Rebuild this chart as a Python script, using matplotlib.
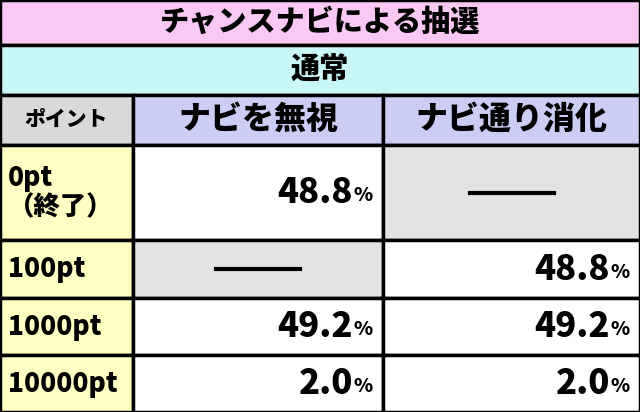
import matplotlib.pyplot as plt
from matplotlib.patches import Rectangle

plt.rcParams['font.family'] = ['Noto Sans CJK JP', 'DejaVu Sans']

title = "チャンスナビによる抽選"
subtitle = "通常"
headers = ["ポイント", "ナビを無視", "ナビ通り消化"]
row_labels = ["0pt\n（終了）", "100pt", "1000pt", "10000pt"]
ignore_vals = [48.8, None, 49.2, 2.0]
follow_vals = [None, 48.8, 49.2, 2.0]

W, H = 640, 412
col_x = [0, 133, 383, 640]
row_y = [145, 240, 298, 355, 412]

fig = plt.figure(figsize=(6.4, 4.12), dpi=100)
ax = fig.add_axes([0, 0, 1, 1])
ax.set_xlim(0, W)
ax.set_ylim(H, 0)
ax.axis("off")


def cell(x0, y0, x1, y1, fc):
    ax.add_patch(Rectangle((x0, y0), x1 - x0, y1 - y0, facecolor=fc,
                           edgecolor="black", lw=2.5))


cell(0, 0, W, 45, "#f9c9f3")
ax.text(W / 2, 22, title, ha="center", va="center", fontsize=21, fontweight="black")
cell(0, 45, W, 95, "#c9f7f7")
ax.text(W / 2, 70, subtitle, ha="center", va="center", fontsize=21, fontweight="black")

cell(col_x[0], 95, col_x[1], 145, "#d9d9d9")
ax.text((col_x[0] + col_x[1]) / 2, 120, headers[0], ha="center", va="center",
        fontsize=15, fontweight="black")
for i in (1, 2):
    cell(col_x[i], 95, col_x[i + 1], 145, "#cccdf5")
    ax.text((col_x[i] + col_x[i + 1]) / 2, 119, headers[i], ha="center", va="center",
            fontsize=23, fontweight="black")

for r, label in enumerate(row_labels):
    y0, y1 = row_y[r], row_y[r + 1]
    cy = (y0 + y1) / 2
    cell(col_x[0], y0, col_x[1], y1, "#ffffc4")
    ax.text(8, cy, label, ha="left", va="center", fontsize=19, fontweight="black",
            linespacing=1.05)
    for c, vals in ((1, ignore_vals), (2, follow_vals)):
        v = vals[r]
        x0, x1 = col_x[c], col_x[c + 1]
        if v is None:
            cell(x0, y0, x1, y1, "#e3e3e3")
            mx = (x0 + x1) / 2
            ax.plot([mx - 42, mx + 42], [cy, cy], color="black", lw=3)
        else:
            cell(x0, y0, x1, y1, "white")
            ax.text(x1 - 10, cy + 3, "%", ha="right", va="center", fontsize=14,
                    fontweight="black")
            ax.text(x1 - 30, cy, f"{v:.1f}", ha="right", va="center", fontsize=25,
                    fontweight="black")

fig.savefig("out.png", dpi=100)
